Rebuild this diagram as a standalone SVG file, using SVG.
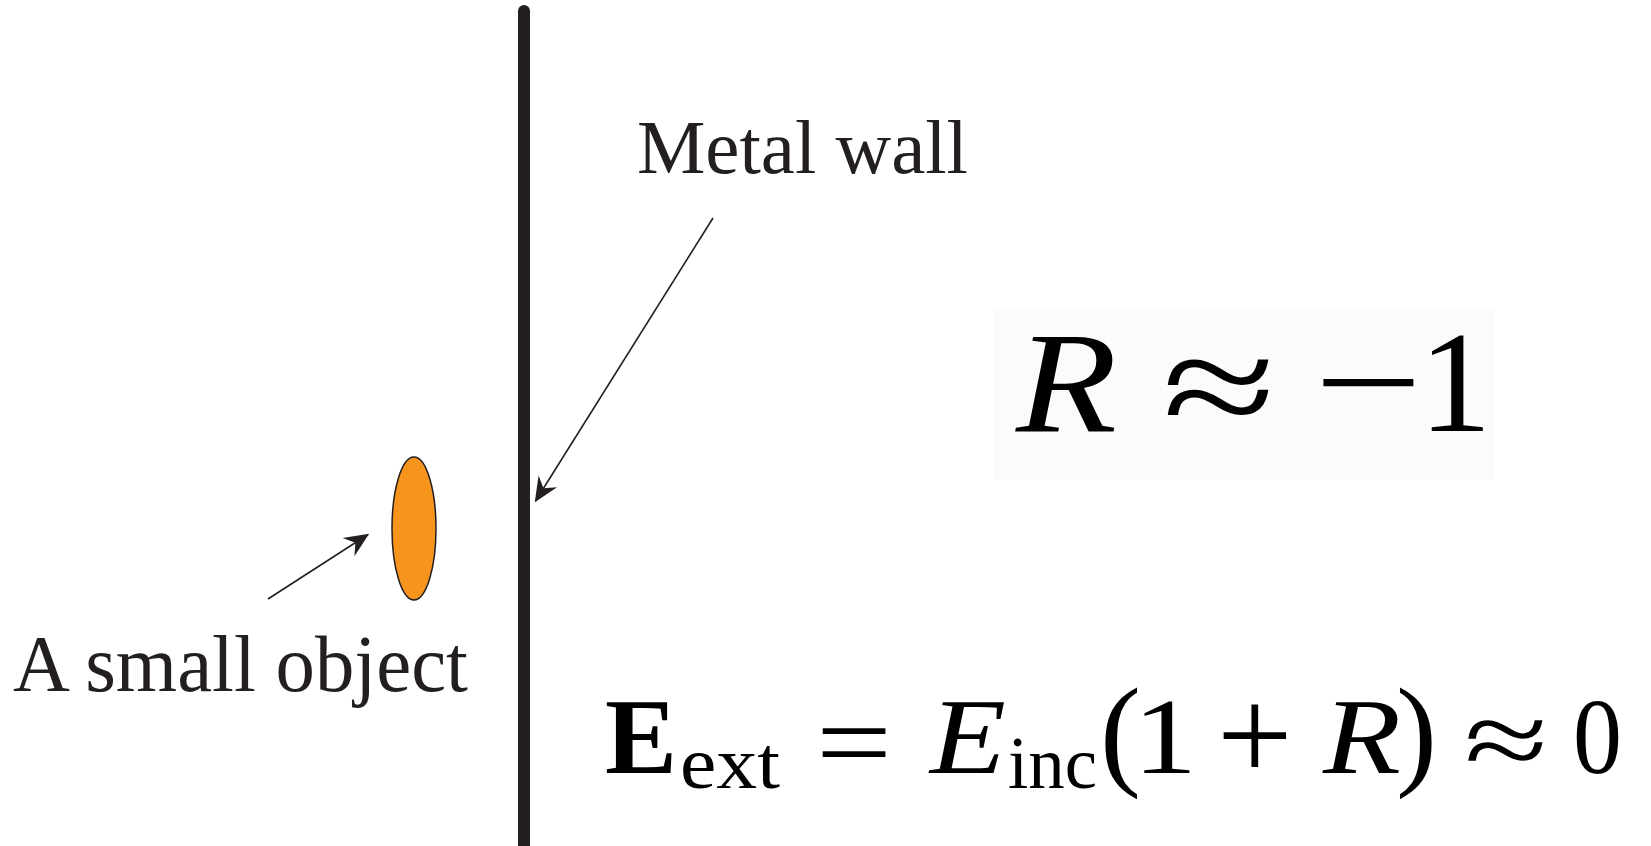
<svg xmlns="http://www.w3.org/2000/svg" width="1651" height="846" viewBox="0 0 1651 846">
<style>
.t{font-family:"Liberation Serif","Times New Roman",serif;fill:#231f20}
.m{font-family:"Liberation Serif","Times New Roman",serif;fill:#000}
.c{stroke:#231f20;stroke-width:1.6;fill:none}
</style>
<defs>
<marker id="ah" markerUnits="userSpaceOnUse" markerWidth="30" markerHeight="30" refX="0" refY="0" viewBox="-20 -10 22 20" orient="auto">
<path d="M1,0 L-17,-8 L-11,0 L-17,8 Z" fill="#231f20"/>
</marker>
</defs>
<rect width="1651" height="846" fill="#fff"/>
<rect x="994" y="309" width="500" height="171" fill="#fbfbfb"/>
<g id="wall">
<line x1="524" y1="11" x2="524" y2="852" stroke="#231f20" stroke-width="12" stroke-linecap="round"/>
</g>
<g id="object">
<ellipse cx="414" cy="528.5" rx="22" ry="71.5" fill="#f7941d" stroke="#231f20" stroke-width="1.5"/>
</g>
<g id="connectors">
<line class="c" x1="268" y1="599" x2="368" y2="534.5" marker-end="url(#ah)"/>
<line class="c" x1="713" y1="218" x2="535.5" y2="501" marker-end="url(#ah)"/>
</g>
<g id="label-wall"><text class="t" x="637" y="173" font-size="77" textLength="331" lengthAdjust="spacingAndGlyphs">Metal wall</text></g>
<g id="label-object"><text class="t" x="13" y="691" font-size="80" textLength="455" lengthAdjust="spacingAndGlyphs">A small object</text></g>
<g id="eq1" class="m" font-size="145">
<text x="1016" y="431" font-style="italic" textLength="101" lengthAdjust="spacingAndGlyphs">R</text>
<text x="1162" y="437" font-size="150" textLength="114" lengthAdjust="spacingAndGlyphs">≈</text>
<text x="1314" y="431" textLength="109" lengthAdjust="spacingAndGlyphs">−</text>
<text x="1419" y="431">1</text>
</g>
<g id="eq2" class="m" font-size="108">
<text x="605" y="773" font-weight="bold">E</text>
<text x="680" y="788" font-size="74" textLength="100" lengthAdjust="spacingAndGlyphs">ext</text>
<text x="816" y="781" font-size="115" textLength="76" lengthAdjust="spacingAndGlyphs">=</text>
<text x="930" y="773" font-style="italic" textLength="76" lengthAdjust="spacingAndGlyphs">E</text>
<text x="1008" y="788" font-size="74" textLength="89" lengthAdjust="spacingAndGlyphs">inc</text>
<text x="1100" y="773" font-size="123">(</text>
<text x="1133" y="773" textLength="64" lengthAdjust="spacingAndGlyphs">1</text>
<text x="1217" y="780" font-size="134">+</text>
<text x="1323" y="773" font-style="italic" textLength="78" lengthAdjust="spacingAndGlyphs">R</text>
<text x="1396" y="773" font-size="123">)</text>
<text x="1464" y="777" font-size="110" textLength="84" lengthAdjust="spacingAndGlyphs">≈</text>
<text x="1573" y="773" textLength="49" lengthAdjust="spacingAndGlyphs">0</text>
</g>
</svg>
